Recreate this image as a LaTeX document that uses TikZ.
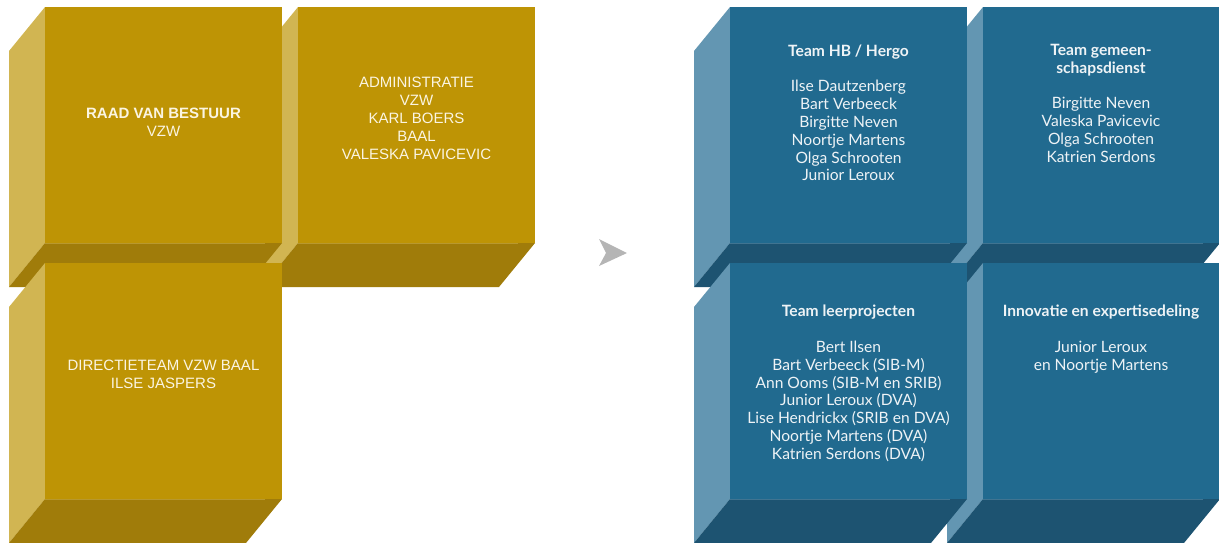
\documentclass[tikz,border=0pt]{standalone}
\usepackage{fontspec}
\setmainfont{Liberation Sans}
\newfontfamily\teamfont{Lato}
\definecolor{goldF}{HTML}{BE9405}
\definecolor{goldS}{HTML}{D1B552}
\definecolor{goldB}{HTML}{A07C0A}
\definecolor{goldT}{HTML}{FBF5E2}
\definecolor{blueF}{HTML}{216A8F}
\definecolor{blueS}{HTML}{6396B2}
\definecolor{blueB}{HTML}{1D5371}
\definecolor{blueT}{HTML}{EEF3F6}
\definecolor{arrowgray}{HTML}{B5B5B5}
\begin{document}
\begin{tikzpicture}[x=1pt, y=-1pt,
  goldtext/.style={text=goldT, align=center, font=\fontsize{15}{18}\selectfont},
  bluetext/.style={text=blueT, align=center, anchor=north, inner sep=0pt,
    font=\teamfont\fontsize{15.6}{17.8}\selectfont}]

\useasboundingbox (0,0) rectangle (1219,542);

% blocks: corner of the front face and colour
\foreach \x/\y/\col in {298/7/gold, 45/7/gold, 45/263/gold,
  983/7/blue, 730/7/blue, 983/263/blue, 730/263/blue}{
  \fill[\col S] (\x,\y) -- (\x,\y+236) -- (\x-36,\y+280) -- (\x-36,\y+44) -- cycle;
  \fill[\col B] (\x,\y+236) -- (\x+237,\y+236) -- (\x+201,\y+280) -- (\x-36,\y+280) -- cycle;
  \fill[\col F] (\x,\y) rectangle (\x+237,\y+236);
  \draw[\col S, line width=0.7pt, opacity=0.5] (\x,\y+236.3) -- (\x+220,\y+236.3);
}

\fill[arrowgray] (599,239) -- (627,253) -- (599,266) -- (606,253) -- cycle;

\node[goldtext] (raad) at (163.5,122) {\textbf{RAAD VAN BESTUUR}\\VZW};
\node[goldtext] (admin) at (416.5,118) {ADMINISTRATIE\\VZW\\KARL BOERS\\BAAL\\VALESKA PAVICEVIC};
\node[goldtext] (dir) at (163.5,374) {DIRECTIETEAM VZW BAAL\\ILSE JASPERS};

\node[bluetext] (hb) at (848.5,44.5) {\textbf{Team HB / Hergo}\\[17.8pt]
  Ilse Dautzenberg\\Bart Verbeeck\\Birgitte Neven\\Noortje Martens\\Olga Schrooten\\Junior Leroux};
\node[bluetext] (gem) at (1101,44) {\textbf{Team gemeen-}\\\textbf{schapsdienst}\\[17.8pt]
  Birgitte Neven\\Valeska Pavicevic\\Olga Schrooten\\Katrien Serdons};
\node[bluetext] (leer) at (848.5,305) {\textbf{Team leerprojecten}\\[17.8pt]
  Bert Ilsen\\Bart Verbeeck (SIB-M)\\Ann Ooms (SIB-M en SRIB)\\Junior Leroux (DVA)\\
  Lise Hendrickx (SRIB en DVA)\\Noortje Martens (DVA)\\Katrien Serdons (DVA)};
\node[bluetext] (inno) at (1101,305) {\textbf{Innovatie en expertisedeling}\\[17.8pt]
  Junior Leroux\\en Noortje Martens};
\end{tikzpicture}
\end{document}
